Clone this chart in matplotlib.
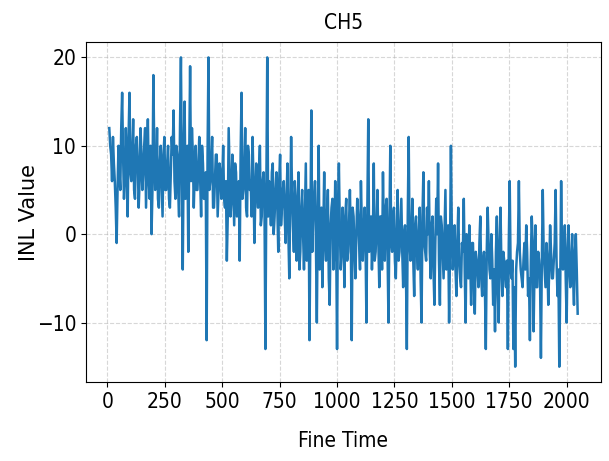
import numpy as np
from matplotlib import pyplot as plt

# INL values: peaks/troughs every 8 fine-time units ...
inl_0_250 = [12, 9, 11, 6, -1, 10, 5, 16, 4, 12, 2, 16, 6, 13, 4, 11,
             3, 12, 5, 10, 3, 13, 4, 0, 18, 5, 12, 3, 10, 2, 11]
inl_250_500 = [5, 10, 3, 11, 14, 4, 9, 2, 20, -4, 15, 6, -2, 19, 12, 3,
               10, 5, 11, 2, 8, 4, -12, 20, 6, 11, 3, 9, 2, 8, 4, 10]
inl_500_750 = [3, -3, 12, 2, 9, 1, 7, 4, -3, 16, 5, 12, 2, 9, 6, 11,
               -1, 8, 3, 10, 2, 7, -13, 20, 6, 1, 8, 2, 7, -2, 9, 3]
inl_750_1000 = [6, -1, 8, -5, 11, 1, 6, -3, 7, -2, 5, -4, 8, 0, -12, 14,
                2, 6, -10, 10, -1, -6, 7, -3, 5, -8, 3, -4, 6, -13]
inl_1000_1250 = [8, -4, 3, -6, 4, -2, 5, -12, 2, -5, 4, -1, 6, -3, 3, -10,
                 13, 1, -4, 8, -2, 5, -6, 2, 7, -3, 4, -10, 10, -2, 3]
inl_1250_1500 = [-5, 5, -2, 4, -6, 1, -13, 11, -3, 4, -7, 2, -4, 3, -10, 7,
                 -2, 3, 6, -5, 2, -8, 4, 8, -8, 1, -5, 5, -3, -10, 10]
inl_1500_1750 = [-4, 1, -7, 3, -5, -1, 4, -10, -2, 1, -8, -1, -9, -3, -6, 2,
                 -7, -2, -13, 3, -4, 0, -8, -11, 2, -10, 3, -7, -3, -6, -13, 6]
inl_1750_2050 = [-5, -13, -15, -2, 6, -4, -6, -1, 1, -7, -12, 2, -11, 1, -6, -3,
                 -14, 5, -4, -1, -8, 1, -5, -3, 5, -7, -15, 6, -4, 1, -10, 1,
                 -6, 0, -8, 0, -9]

# ... and the in-between samples (4 units later) inside the dense band
mid_0_250 = [10, 6, 8, 3, 5, 7, 12, 9, 6, 8, 11, 7, 9, 5, 10, 8,
             6, 9, 7, 12, 8, 6, 10, 5, 9, 7, 4, 8, 6, 9, 5]
mid_250_500 = [8, 4, 7, 9, 6, 10, 5, 12, 7, 9, 4, 10, 8, 6, 9, 7,
               5, 8, 6, 10, 4, 7, 9, 5, 8, 3, 6, 9, 5, 7, 6, 4]
mid_500_750 = [6, 2, 7, 4, 5, 8, 2, 6, 9, 4, 7, 3, 10, 5, 2, 6,
               4, 5, 7, 1, 6, 3, 5, 2, 4, 7, 0, 5, 3, 6, 1, 5]
mid_750_1000 = [2, 4, 0, 3, 5, -2, 4, 1, -4, 3, 0, 2, -3, 5, 1, -2,
                4, -1, 2, -4, 3, 0, -1, 2, -5, 1, 4, -2, 0, 3]
mid_1000_1250 = [1, -2, 0, 2, -3, 1, -1, 3, -2, 0, 2, -4, 1, 0, -1, 3,
                 -2, 2, 0, -3, 1, -1, 2, -4, 0, 3, -2, 1, -1, 2, -3]
mid_1250_1500 = [0, -3, 1, -2, 0, -4, 2, -1, 0, -3, 1, -2, 0, -5, 2, -1,
                 -3, 0, -2, 1, -4, -1, 0, -3, 2, -2, 0, -4, 1, -2, 0]
mid_1500_1750 = [-2, -4, -1, -3, -6, -2, -4, 0, -5, -3, -1, -6, -2, -4, -1, -5,
                 -3, -6, -2, -1, -5, -3, -4, -2, -6, -1, -4, -2, -5, -3, -1, -4]
mid_1750_2050 = [-3, -6, -4, -1, -2, -5, -3, -4, -2, -5, -3, -1, -4, -6, -2, -5,
                 -3, -2, -6, -3, -4, -2, -5, -1, -3, -4, -6, -2, -3, -5, -2, -4,
                 -3, -5, -2, -4]

peaks = (inl_0_250 + inl_250_500 + inl_500_750 + inl_750_1000
         + inl_1000_1250 + inl_1250_1500 + inl_1500_1750 + inl_1750_2050)
mids = (mid_0_250 + mid_250_500 + mid_500_750 + mid_750_1000
        + mid_1000_1250 + mid_1250_1500 + mid_1500_1750 + mid_1750_2050)

inl = np.empty(len(peaks) + len(mids))
inl[0::2] = peaks
inl[1::2] = mids
fine_time = np.arange(8, 8 + 4 * len(inl), 4)

fig = plt.figure(figsize=(6.09, 4.61), dpi=100)
ax = fig.add_axes([0.141, 0.171, 0.846, 0.738])
ax.plot(fine_time, inl, color='#1f77b4', linewidth=1.8)

narrow = dict(fontsize=15, fontstretch='condensed')
ax.set_title('CH5', pad=9, **narrow)
ax.set_xlabel('Fine Time', labelpad=14, **narrow)
ax.set_ylabel('INL Value', fontsize=15, labelpad=-2)
ax.set_xticks(range(0, 2001, 250))
ax.set_yticks([-10, 0, 10, 20])
for lbl in ax.get_xticklabels() + ax.get_yticklabels():
    lbl.set_fontsize(15)
    lbl.set_fontstretch('condensed')
ax.grid(True, linestyle='--', alpha=0.5)
fig.savefig('out.png', dpi=100)
